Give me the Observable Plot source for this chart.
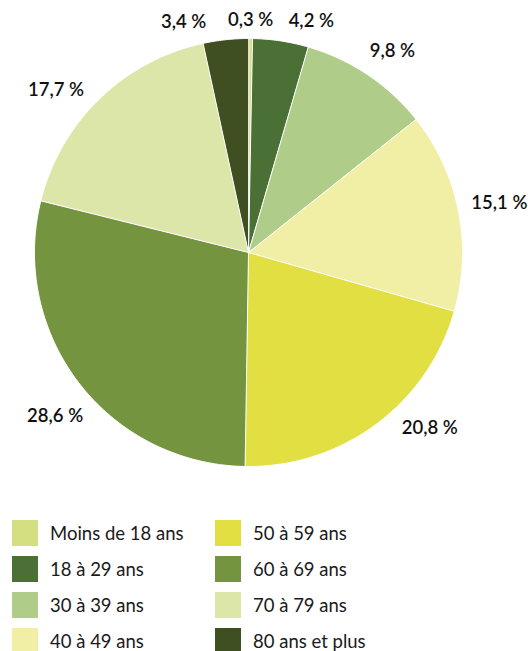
<!DOCTYPE html>
<html>
<head>
<meta charset="utf-8">
<script src="https://cdn.jsdelivr.net/npm/d3@7"></script>
<script src="https://cdn.jsdelivr.net/npm/@observablehq/plot@0.6"></script>
<style>
  html, body { margin: 0; padding: 0; background: #fff; }
  body { width: 528px; height: 651px; overflow: hidden; font-family: Lato, "Open Sans", sans-serif; }
  #legend { display: grid; grid-template-columns: 203px 300px; grid-auto-rows: 36px; margin-left: 12px; margin-top: 10px; }
  .item { display: flex; align-items: center; font-size: 18.5px; color: #1a1a1a; }
  .sw { width: 26px; height: 26px; margin-right: 12px; flex: none; }
</style>
</head>
<body>
<div id="chart"></div>
<div id="legend"></div>
<script>
const categories = ["Moins de 18 ans", "18 à 29 ans", "30 à 39 ans", "40 à 49 ans", "50 à 59 ans", "60 à 69 ans", "70 à 79 ans", "80 ans et plus"];
const values = [0.3, 4.2, 9.8, 15.1, 20.8, 28.6, 17.7, 3.4];
const labels = ["0,3 %", "4,2 %", "9,8 %", "15,1 %", "20,8 %", "28,6 %", "17,7 %", "3,4 %"];
const colors = ["#d4df82", "#4a7035", "#afcc88", "#f1efa6", "#e1df41", "#74943f", "#dde6a9", "#3f4f22"];

// layout: angular nudges (degrees) for crowded labels
const labelNudge = [0, 6.5, 1.5, 0, -9.5, -2.5, -5.5, -9.5];

const R = 214, cx = 248, cy = 252;
const pie = d3.pie().sort(null).value(d => d)(values);

// slice polygons in unit coordinates (angle clockwise from top)
const poly = [];
pie.forEach((p, i) => {
  const n = Math.max(2, Math.ceil((p.endAngle - p.startAngle) / 0.01));
  poly.push({cat: categories[i], x: 0, y: 0});
  for (let j = 0; j <= n; j++) {
    const a = p.startAngle + (p.endAngle - p.startAngle) * j / n;
    poly.push({cat: categories[i], x: Math.sin(a), y: Math.cos(a)});
  }
});

// label positions
const pad = 12, hw = 29, hh = 7;
const lab = pie.map((p, i) => {
  const a = (p.startAngle + p.endAngle) / 2 + labelNudge[i] * Math.PI / 180;
  const r = R + pad + hw * Math.abs(Math.sin(a)) + hh * Math.abs(Math.cos(a));
  return {text: labels[i], x: Math.sin(a) * r / R, y: Math.cos(a) * r / R};
});

const chart = Plot.plot({
  width: 528,
  height: 505,
  margin: 0,
  x: {domain: [-1, 1], range: [cx - R, cx + R], axis: null},
  y: {domain: [-1, 1], range: [cy + R, cy - R], axis: null},
  color: {domain: categories, range: colors},
  style: {fontFamily: "Lato, 'Open Sans', sans-serif", background: "#fff"},
  marks: [
    Plot.line(poly, {x: "x", y: "y", z: "cat", fill: "cat", stroke: "#fff", strokeWidth: 1, curve: "linear-closed"}),
    Plot.text(lab, {x: "x", y: "y", text: "text", fontSize: 18.5, fontWeight: 600, fill: "#111", textAnchor: "middle", dy: 1})
  ]
});
document.getElementById("chart").appendChild(chart);

// legend: column-major, 4 rows
const legend = document.getElementById("legend");
const order = [0, 4, 1, 5, 2, 6, 3, 7];
order.forEach(i => {
  const div = document.createElement("div");
  div.className = "item";
  const sw = document.createElement("span");
  sw.className = "sw";
  sw.style.background = colors[i];
  div.appendChild(sw);
  div.appendChild(document.createTextNode(categories[i]));
  legend.appendChild(div);
});
</script>
</body>
</html>
